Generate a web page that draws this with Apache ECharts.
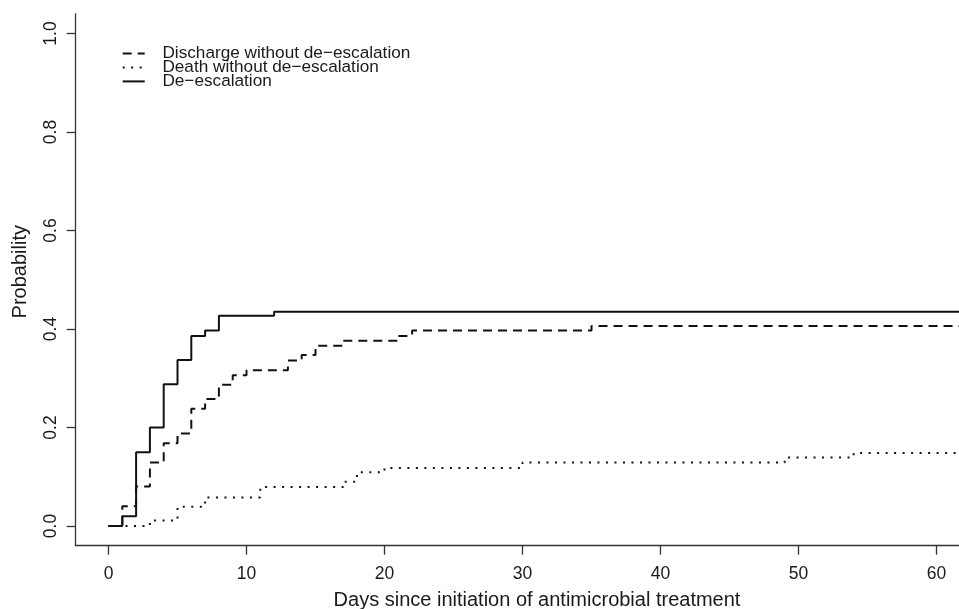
<!DOCTYPE html>
<html>
<head>
<meta charset="utf-8">
<script src="https://cdn.jsdelivr.net/npm/echarts@6/dist/echarts.min.js"></script>
<style>
  html, body { margin: 0; padding: 0; background: #fff; }
  #chart { width: 959px; height: 609px; }
</style>
</head>
<body>
<div id="chart"></div>
<script>
// cumulative incidence step curves (day of change -> probability)
const dischargeDays = [0, 1, 2, 3, 4, 5, 6, 7, 8, 9, 10, 13, 14, 15, 17, 21, 22, 35, 62];
const dischargeProb = [0, 0.04, 0.08, 0.129, 0.168, 0.188, 0.238, 0.258, 0.287, 0.306, 0.316, 0.336, 0.347, 0.366, 0.376, 0.386, 0.397, 0.406, 0.406];

const deathDays = [0, 3, 5, 7, 11, 17, 18, 20, 30, 49, 54, 62];
const deathProb = [0, 0.011, 0.039, 0.058, 0.079, 0.09, 0.109, 0.118, 0.129, 0.139, 0.148, 0.148];

const deescDays = [0, 1, 2, 3, 4, 5, 6, 7, 8, 12, 62];
const deescProb = [0, 0.02, 0.15, 0.2, 0.288, 0.337, 0.386, 0.397, 0.427, 0.435, 0.435];

const xTicks = [0, 10, 20, 30, 40, 50, 60];
const yTicks = [0, 0.2, 0.4, 0.6, 0.8, 1.0];

const seriesNames = ["Discharge without de\u2212escalation", "Death without de\u2212escalation", "De\u2212escalation"];

const FONT = "'Liberation Sans', Arial, Helvetica, sans-serif";
const INK = "#1a1a1a";

function pairs(days, prob) {
  return days.map((d, i) => [d, prob[i]]);
}

const chart = echarts.init(document.getElementById("chart"), null, { renderer: "canvas" });

const axisCommon = {
  type: "value",
  splitLine: { show: false },
  axisLine: { show: true, onZero: false, lineStyle: { color: "#333", width: 1.3 } },
  axisTick: { show: true, inside: false, length: 9, lineStyle: { color: "#333", width: 1.3 } },
};

const option = {
  animation: false,
  backgroundColor: "#fff",
  textStyle: { fontFamily: FONT },
  grid: { left: 75.7, right: 0, top: 13.8, bottom: 63.3, containLabel: false },
  xAxis: {
    ...axisCommon,
    min: -2.377,
    max: 61.63,
    axisTick: { ...axisCommon.axisTick, customValues: xTicks },
    axisLabel: {
      customValues: xTicks,
      margin: 19,
      fontSize: 17.5,
      color: INK,
      fontFamily: FONT,
    },
  },
  yAxis: {
    ...axisCommon,
    min: -0.04,
    max: 1.04,
    axisTick: { ...axisCommon.axisTick, customValues: yTicks },
    axisLabel: {
      customValues: yTicks,
      rotate: 90,
      margin: 16,
      fontSize: 17.5,
      color: INK,
      fontFamily: FONT,
      formatter: v => v.toFixed(1),
    },
  },
  legend: {
    orient: "vertical",
    left: 121.7,
    top: 44.9,
    padding: 0,
    itemWidth: 22,
    itemHeight: 14,
    itemGap: -3,
    selectedMode: false,
    data: seriesNames,
    itemStyle: { opacity: 0 },
    textStyle: { fontSize: 17.2, color: INK, fontFamily: FONT, padding: [0, 0, 0, 12.7] },
  },
  graphic: [
    {
      type: "text",
      x: 537,
      y: 600,
      style: {
        text: "Days since initiation of antimicrobial treatment",
        fontSize: 20,
        fontFamily: FONT,
        fill: INK,
        align: "center",
        verticalAlign: "middle",
      },
    },
    {
      type: "text",
      x: 20,
      y: 271.7,
      rotation: Math.PI / 2,
      style: {
        text: "Probability",
        fontSize: 20,
        fontFamily: FONT,
        fill: INK,
        align: "center",
        verticalAlign: "middle",
      },
    },
  ],
  series: [
    {
      name: seriesNames[0],
      type: "line",
      step: "end",
      symbol: "none",
      data: pairs(dischargeDays, dischargeProb),
      lineStyle: { color: "#111", width: 2, type: [9, 6] },
      itemStyle: { color: "#111" },
    },
    {
      name: seriesNames[1],
      type: "line",
      step: "end",
      symbol: "none",
      data: pairs(deathDays, deathProb),
      lineStyle: { color: "#111", width: 2, type: [2, 6.5] },
      itemStyle: { color: "#111" },
    },
    {
      name: seriesNames[2],
      type: "line",
      step: "end",
      symbol: "none",
      data: pairs(deescDays, deescProb),
      lineStyle: { color: "#111", width: 2, type: "solid" },
      itemStyle: { color: "#111" },
    },
  ],
};

chart.setOption(option);
</script>
</body>
</html>
